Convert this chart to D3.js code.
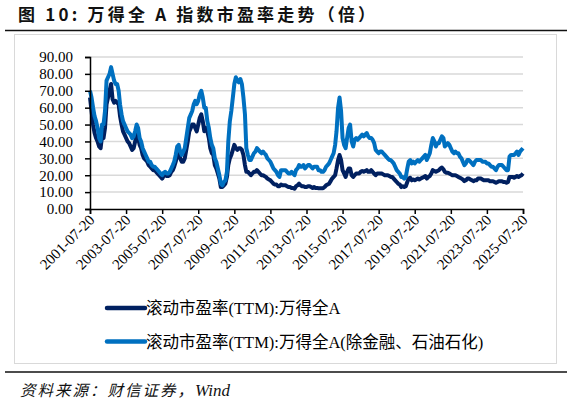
<!DOCTYPE html>
<html>
<head>
<meta charset="utf-8">
<script src="https://cdn.jsdelivr.net/npm/d3@7"></script>
<style>
  body { margin: 0; background: #fff; }
  svg { display: block; }
</style>
</head>
<body>
<script>
// monthly points, first one at 2001-07-20
var startDate = "2001-07-20";

// 滚动市盈率(TTM):万得全A
var peAll = [
  66, 58, 50, 45, 42, 40,
  37, 36, 43, 42, 48, 62, 66, 70, 74, 65, 63, 64,
  63, 62, 55, 50, 46, 44, 42, 40, 39, 37, 35, 36,
  40, 44, 42, 38, 36, 32, 30, 29, 28, 26, 25, 24,
  23, 23, 22, 21, 20, 19, 18, 19.5, 20, 19.5, 19.5, 20,
  22, 23, 25, 28, 32, 33, 30, 28, 28, 30, 35, 40,
  46, 48, 50, 50, 48, 46, 50, 54, 56, 52, 46, 48,
  46, 42, 36, 33, 32, 26, 24, 21, 18, 13, 13, 14,
  15, 19, 26, 30, 32, 35, 38, 36, 35, 36, 36, 35,
  32, 26, 22, 22, 21, 20, 21, 22, 22, 23, 22, 21,
  20, 20, 19.5, 19, 18, 17.5, 17, 16, 15, 14.5, 14.5, 13.5,
  13.5, 14.5, 14, 14, 14, 13.5, 13, 13, 12.5, 12.5, 12, 13.5,
  14, 15, 14, 13.5, 13.5, 13, 13, 13.5, 13.5, 13, 12.5, 13,
  12.5, 12.5, 12.3, 12.3, 12.3, 12.3, 13, 14, 14.5, 15, 16.5, 18,
  19, 20, 24, 29, 32, 29, 23, 21, 19, 22, 24, 24,
  20, 19, 20, 21, 21, 21, 22, 22.5, 22, 22.5, 23, 22,
  22, 23, 22, 21, 20, 21, 21, 21, 21, 20.5, 20, 20,
  20, 19.5, 19, 19, 18, 17, 16, 15, 14.5, 13, 13.5, 13,
  13.5, 16, 18, 18.5, 17, 17.5, 17, 17.5, 18, 17.5, 18, 18.5,
  19, 19.5, 18, 19, 19.5, 21, 23, 22.5, 22, 22.5, 23, 24,
  24.5, 23.5, 22, 21.5, 21.5, 21, 20.5, 20, 20, 20, 19.5, 19,
  18.5, 18, 17.5, 16.5, 17, 18, 18, 17.5, 17, 16.5, 17, 17,
  18, 18, 18, 17.5, 17, 17, 17, 17, 16.5, 16.5, 16.5, 16,
  15.5, 16, 16.5, 16.5, 16.5, 16, 16, 15.5, 16, 19, 19, 19,
  18.5, 19, 19.5, 19, 19.5, 20, 21
];

// 滚动市盈率(TTM):万得全A(除金融、石油石化)
var peExFin = [
  70, 66, 60, 55, 52, 48,
  42, 40, 50, 50, 58, 76, 78, 80, 84, 80, 76, 74,
  74, 70, 62, 56, 52, 50, 48, 46, 45, 44, 42, 43,
  46, 50, 48, 42, 40, 36, 34, 32, 30, 28, 28, 26,
  25, 25, 24, 23, 22, 21, 20, 21.5, 22, 21, 21, 22,
  24, 26, 28, 32, 37, 38, 34, 32, 34, 36, 42, 48,
  54, 56, 58, 62, 64, 62, 64, 68, 70, 66, 60, 60,
  52, 48, 42, 38, 36, 30, 28, 24, 20, 15, 14, 16,
  17, 22, 40, 52, 58, 66, 74, 78, 76, 75, 77, 74,
  66, 56, 36, 32, 29, 29, 31, 33, 34, 36, 35, 34,
  33, 34, 33, 32, 30, 29, 28, 26, 24, 23, 22, 20,
  19, 23, 23, 23, 23, 22, 21, 21, 22, 21, 20, 23,
  24, 26, 25, 25, 26, 24, 25, 26, 26, 25, 24, 25,
  25, 25, 23, 23, 22, 22, 23, 25, 26, 27, 29, 31,
  33, 38, 46, 60, 66, 58, 42, 38, 36, 42, 48, 50,
  40, 37, 41, 42, 41, 42, 43, 44, 43, 44, 45, 43,
  42, 42, 41, 39, 35, 34, 33, 34, 34, 33, 32, 31,
  30, 29, 29, 28, 27, 25, 23, 22, 21, 19, 19, 18,
  19, 24, 28, 29, 27, 28, 27, 28, 29, 28, 29, 30,
  31, 32, 29, 31, 33, 38, 42, 40, 37, 39, 39, 41,
  43, 42, 37, 38, 39, 38, 36, 34, 33, 34, 33, 33,
  31, 30, 28, 26, 27, 29, 29, 28, 27, 26, 28, 29,
  29, 29, 29, 28, 28, 28, 27, 27, 26, 25, 25, 24,
  23, 25, 26, 26, 26, 25, 24, 23, 23, 31, 32, 32,
  32, 33, 34, 32, 34, 35, 36
];

var tickLabels = ["2001-07-20", "2003-07-20", "2005-07-20", "2007-07-20", "2009-07-20",
  "2011-07-20", "2013-07-20", "2015-07-20", "2017-07-20", "2019-07-20",
  "2021-07-20", "2023-07-20", "2025-07-20"];
var yTicks = [0, 10, 20, 30, 40, 50, 60, 70, 80, 90];

var seriesNames = ["滚动市盈率(TTM):万得全A", "滚动市盈率(TTM):万得全A(除金融、石油石化)"];
var seriesColors = ["#002060", "#0070c0"];

var width = 576, height = 404;
var parse = d3.timeParse("%Y-%m-%d");
var t0 = parse(startDate);
var dates = peAll.map(function(d, i) { return d3.timeMonth.offset(t0, i); });

var svg = d3.select("body").append("svg")
  .attr("width", width)
  .attr("height", height);

// title
svg.append("text")
  .attr("x", 18).attr("y", 21)
  .style("font-family", "'Noto Sans CJK SC', sans-serif")
  .style("font-weight", "bold")
  .style("font-size", "17px")
  .style("letter-spacing", "3.2px")
  .attr("fill", "#111")
  .text("图 10: 万得全 A 指数市盈率走势（倍）");

svg.append("line").attr("x1", 5).attr("x2", 567).attr("y1", 30.5).attr("y2", 30.5)
  .attr("stroke", "#111").attr("stroke-width", 1.6);

// outer chart frame
svg.append("rect").attr("x", 14.5).attr("y", 34.5).attr("width", 542).attr("height", 329)
  .attr("fill", "none").attr("stroke", "#d9d9d9").attr("stroke-width", 1);

var x = d3.scaleTime()
  .domain([parse(tickLabels[0]), parse(tickLabels[tickLabels.length - 1])])
  .range([90, 523]);
var y = d3.scaleLinear().domain([0, 90]).range([209, 57]);

// gridlines
svg.append("g").selectAll("line")
  .data(yTicks.slice(1))
  .enter().append("line")
  .attr("x1", 90).attr("x2", 523)
  .attr("y1", function(d) { return y(d); })
  .attr("y2", function(d) { return y(d); })
  .attr("stroke", "#d9d9d9").attr("stroke-width", 1.5);

// lines
var line = d3.line()
  .x(function(d, i) { return x(dates[i]); })
  .y(function(d) { return y(d); });

[peAll, peExFin].forEach(function(s, k) {
  svg.append("path")
    .datum(s)
    .attr("d", line)
    .attr("fill", "none")
    .attr("stroke", seriesColors[k])
    .attr("stroke-width", 4)
    .attr("stroke-linejoin", "round");
});

// axes
var yAxis = svg.append("g")
  .attr("transform", "translate(90,0)")
  .call(d3.axisLeft(y).tickValues(yTicks).tickSize(5).tickPadding(12)
    .tickFormat(d3.format(".2f")));
var xAxis = svg.append("g")
  .attr("transform", "translate(0,209)")
  .call(d3.axisBottom(x).tickValues(tickLabels.map(parse)).tickSize(5)
    .tickFormat(d3.timeFormat("%Y-%m-%d")));

[yAxis, xAxis].forEach(function(a) {
  a.select(".domain").attr("stroke", "#000").attr("stroke-width", 1.5);
  a.selectAll(".tick line").attr("stroke", "#000").attr("stroke-width", 1.5);
  a.selectAll("text")
    .style("font-family", "'Liberation Serif', serif")
    .style("font-size", "15px")
    .attr("fill", "#000");
});

xAxis.selectAll("text")
  .attr("text-anchor", "end")
  .attr("dy", null)
  .attr("y", 0)
  .attr("transform", "translate(5,12) rotate(-45)");

// legend
var leg = svg.append("g").selectAll("g")
  .data(seriesNames)
  .enter().append("g")
  .attr("transform", function(d, i) { return "translate(107," + (308 + i * 33.5) + ")"; });
leg.append("line")
  .attr("x1", 0).attr("x2", 38)
  .attr("stroke", function(d, i) { return seriesColors[i]; })
  .attr("stroke-width", 4.5).attr("stroke-linecap", "round");
leg.append("text")
  .attr("x", 39).attr("y", 6)
  .style("font-family", "'Liberation Serif', 'Noto Sans CJK SC', serif")
  .style("font-size", "16.5px")
  .attr("fill", "#000")
  .text(function(d) { return d; });

// source
svg.append("line").attr("x1", 5).attr("x2", 567).attr("y1", 372).attr("y2", 372)
  .attr("stroke", "#111").attr("stroke-width", 1.6);
var src = svg.append("text")
  .attr("x", 20).attr("y", 396)
  .style("font-style", "italic")
  .style("font-size", "15.5px")
  .attr("fill", "#111");
src.append("tspan")
  .style("font-family", "'Noto Sans CJK SC', sans-serif")
  .style("letter-spacing", "2px")
  .text("资料来源：财信证券，");
src.append("tspan")
  .style("font-family", "'Liberation Serif', serif")
  .style("font-size", "17px")
  .text("Wind");
</script>
</body>
</html>
